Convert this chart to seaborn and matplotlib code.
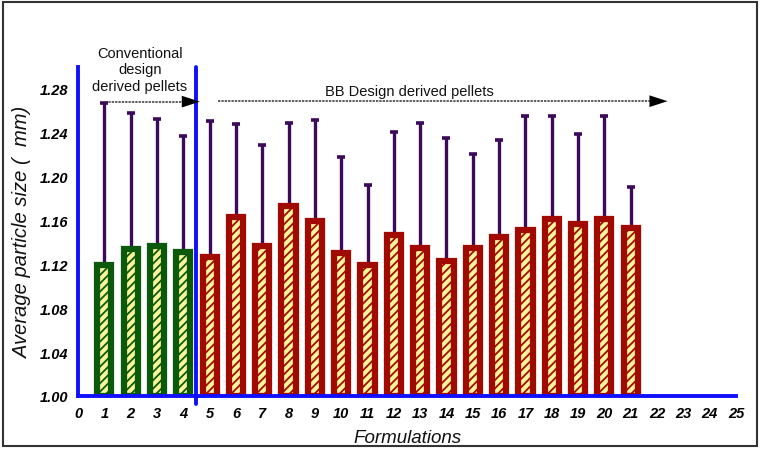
import numpy as np
import pandas as pd
import matplotlib
matplotlib.use("Agg")
import matplotlib.pyplot as plt
from matplotlib.patches import Rectangle
import seaborn as sns

# ---- data ----
formulations = list(range(1, 22))
group = ["Conventional"] * 4 + ["BB"] * 17
mean_size = [1.119, 1.134, 1.137, 1.131, 1.127, 1.163, 1.137, 1.173, 1.160, 1.130,
             1.119, 1.147, 1.135, 1.123, 1.135, 1.145, 1.151, 1.161, 1.157, 1.161, 1.153]
upper_err = [0.148, 0.124, 0.116, 0.106, 0.124, 0.085, 0.092, 0.076, 0.092, 0.088,
             0.073, 0.094, 0.114, 0.112, 0.086, 0.088, 0.104, 0.094, 0.082, 0.094, 0.038]
x_ticks = list(range(0, 26))
y_ticks = [1.00, 1.04, 1.08, 1.12, 1.16, 1.20, 1.24, 1.28]

df = pd.DataFrame({"formulation": formulations, "size": mean_size,
                   "err": upper_err, "group": group})

sns.set_style("white")
plt.rcParams["font.family"] = ["Liberation Sans", "DejaVu Sans"]
plt.rcParams["hatch.linewidth"] = 1.3

fig = plt.figure(figsize=(7.68, 4.52), dpi=100)
ax = fig.add_axes([0.1016, 0.1217, 0.8567, 0.7279])

edge_colors = {"Conventional": "#0b5a0b", "BB": "#a00a00"}
fill_color = "#fbf59a"

# error bars (upper only), drawn behind bars
ax.errorbar(df["formulation"], df["size"],
            yerr=[np.zeros(len(df)), df["err"]],
            fmt="none", ecolor="#3d0a5a", elinewidth=2.4, capsize=2.6,
            capthick=2.6, zorder=1)

for g in ["Conventional", "BB"]:
    sub = df[df["group"] == g]
    n_before = len(ax.patches)
    sns.barplot(data=sub, x="formulation", y="size", native_scale=True,
                width=0.54, color=fill_color, saturation=1,
                edgecolor=edge_colors[g], linewidth=4.5, ax=ax, zorder=2)
    for p in ax.patches[n_before:]:
        h = p.get_height()
        p.set_y(1.0)
        p.set_height(h - 1.0)
        p.set_hatch("////")
        p.set_edgecolor(edge_colors[g])
        p.set_linewidth(4.5)

ax.set_xlim(0, 25)
ax.set_ylim(1.00, 1.30)
ax.set_xticks(x_ticks)
ax.set_xticklabels([str(t) for t in x_ticks])
ax.set_yticks(y_ticks)
ax.set_yticklabels([f"{t:.2f}" for t in y_ticks])

for lab in ax.get_xticklabels() + ax.get_yticklabels():
    lab.set_fontweight("bold")
    lab.set_fontstyle("italic")
    lab.set_fontsize(10.5)
    lab.set_color("black")

ax.tick_params(axis="both", colors="#1010ff", width=2.8, length=5,
               direction="out", labelcolor="black", pad=2)

for s in ["top", "right"]:
    ax.spines[s].set_visible(False)
for s in ["left", "bottom"]:
    ax.spines[s].set_color("#1010ff")
    ax.spines[s].set_linewidth(2.8)

ax.set_xlabel("Formulations", fontsize=13.5, fontstyle="italic", color="#111111")
ax.xaxis.set_label_coords(0.5, -0.1)
ax.set_ylabel("Average particle size (  mm)", fontsize=14.5, fontstyle="italic",
              color="#111111")
ax.yaxis.set_label_coords(-0.07, 0.5)

# separator line between designs
ax.axvline(4.5, ymin=-0.025, ymax=1.0, color="#1010ff", lw=2.8, clip_on=False, zorder=3)

# annotations
def arrow(x0, x1, y):
    ax.plot([x0, x1 - 0.5], [y, y], color="#333333", lw=1.1,
            linestyle=(0, (1.5, 0.7)), zorder=4, clip_on=False)
    ax.annotate("", xy=(x1, y), xytext=(x0, y),
                arrowprops=dict(arrowstyle="-|>,head_length=1.3,head_width=0.42",
                                fc="black", ec="black", lw=0.01,
                                shrinkA=0, shrinkB=0),
                annotation_clip=False, zorder=5)

arrow(1.03, 4.63, 1.2684)
arrow(5.3, 22.4, 1.2688)

ax.text(2.35, 1.2978, "Conventional\ndesign\nderived pellets", ha="center",
        va="center", fontsize=10.5, color="#111111", linespacing=1.2)
ax.text(12.6, 1.2785, "BB Design derived pellets", ha="center", va="center",
        fontsize=10.5, color="#111111")

# figure border
fig.patches.append(Rectangle((0.004, 0.012), 0.982, 0.982, transform=fig.transFigure,
                             fill=False, ec="#333333", lw=1.5))

fig.savefig("out.png", dpi=100)
